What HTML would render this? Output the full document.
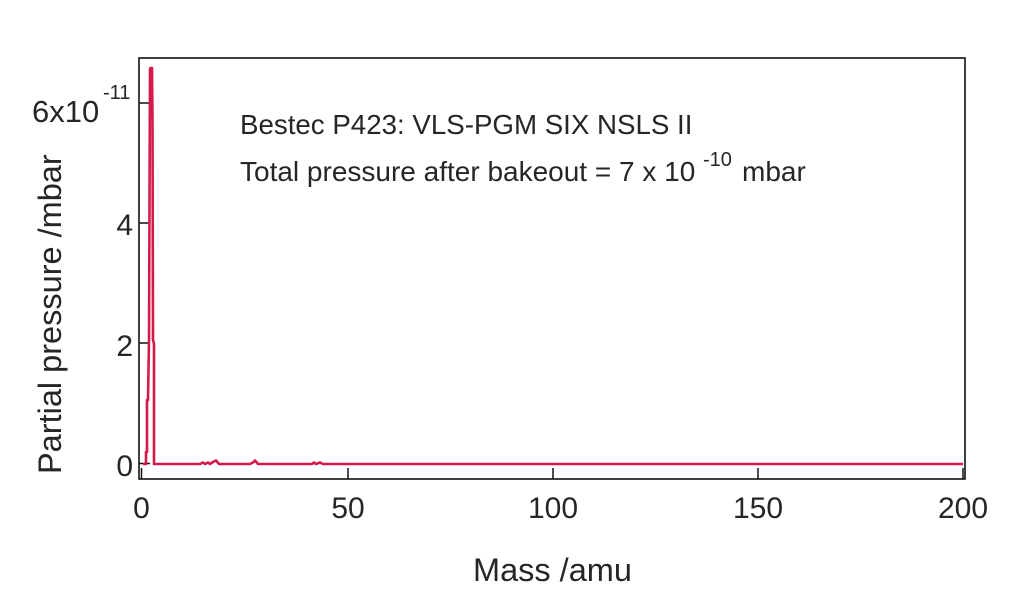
<!DOCTYPE html>
<html>
<head>
<meta charset="utf-8">
<style>
  html, body { margin: 0; padding: 0; background: #ffffff; }
  body { width: 1024px; height: 589px; overflow: hidden; }
  svg { display: block; }
  text { font-family: "Liberation Sans", Arial, sans-serif; fill: #262626; }
</style>
</head>
<body>
<svg width="1024" height="589" viewBox="0 0 1024 589" xmlns="http://www.w3.org/2000/svg">
  <rect x="0" y="0" width="1024" height="589" fill="#ffffff"/>

  <!-- frame -->
  <rect x="139" y="58" width="826" height="421" fill="none" stroke="#111" stroke-width="1.6"/>

  <!-- y ticks -->
  <g stroke="#111" stroke-width="1.5">
    <line x1="139" y1="463.5" x2="150" y2="463.5"/>
    <line x1="139" y1="343" x2="150" y2="343"/>
    <line x1="139" y1="223" x2="150" y2="223"/>
    <line x1="139" y1="103" x2="150" y2="103"/>
  </g>
  <!-- x ticks -->
  <g stroke="#111" stroke-width="1.5">
    <line x1="141.5" y1="468" x2="141.5" y2="479"/>
    <line x1="348" y1="468" x2="348" y2="479"/>
    <line x1="553" y1="468" x2="553" y2="479"/>
    <line x1="758" y1="468" x2="758" y2="479"/>
    <line x1="963" y1="468" x2="963" y2="479"/>
  </g>

  <!-- data series -->
  <path d="M143,464 L146,464 L146,452 L147,452 L147,400 L148,400 L149,340 L150,70 L150.5,68 L152,68 L152.5,120 L153,340 L154,344 L154,464
           L200,464 L203,462.5 L205,464 L208,462.5 L210,464 L213,462 L216,460.5 L219,464
           L250,464 L253,462.5 L255,460.5 L258,464
           L312,464 L314,462.5 L316,464 L320,462.5 L323,464 L963,464"
        fill="none" stroke="#d41a4c" stroke-width="2.6" stroke-linejoin="round"/>

  <!-- y tick labels -->
  <text x="32" y="122" font-size="31">6x10</text>
  <text x="103" y="99" font-size="20">-11</text>
  <text x="133" y="235" font-size="30" text-anchor="end">4</text>
  <text x="133" y="356" font-size="30" text-anchor="end">2</text>
  <text x="133" y="476" font-size="30" text-anchor="end">0</text>

  <!-- x tick labels -->
  <text x="141.5" y="518" font-size="30" text-anchor="middle">0</text>
  <text x="348" y="518" font-size="30" text-anchor="middle">50</text>
  <text x="553" y="518" font-size="30" text-anchor="middle">100</text>
  <text x="758" y="518" font-size="30" text-anchor="middle">150</text>
  <text x="963" y="518" font-size="30" text-anchor="middle">200</text>

  <!-- axis titles -->
  <text x="473" y="581" font-size="32.5">Mass /amu</text>
  <text transform="translate(61,474) rotate(-90)" x="0" y="0" font-size="32.5">Partial pressure /mbar</text>

  <!-- annotation -->
  <text x="240" y="134" font-size="27.7">Bestec P423: VLS-PGM SIX NSLS II</text>
  <text x="240" y="181" font-size="28">Total pressure after bakeout = 7 x 10</text>
  <text x="703" y="166" font-size="20">-10</text>
  <text x="742" y="181" font-size="28">mbar</text>
</svg>
</body>
</html>
